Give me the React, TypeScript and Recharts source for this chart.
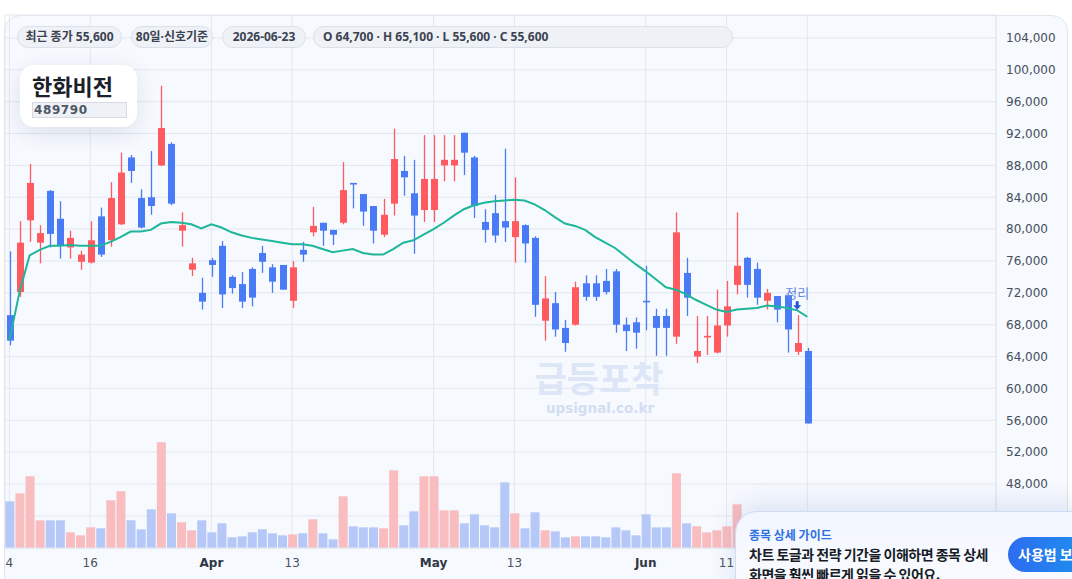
import React from "react";
import {
  ComposedChart,
  Bar,
  Line,
  XAxis,
  YAxis,
  CartesianGrid,
  Cell,
  ReferenceDot,
} from "recharts";

// 80 trading days, Mar 4 .. Jun 23 2026
const opens = [
  69200, 72100, 81100, 78300, 84800, 81300, 77700, 75900, 75800, 81600,
  78600, 80600, 89000, 83900, 84000, 88000, 90700, 79800, 74900, 72000,
  76100, 77900, 74000, 73100, 75000, 77000, 75200, 75500, 71000, 77400,
  79600, 80800, 79900, 80800, 85800, 84400, 82900, 79300, 83200, 87300,
  84500, 82400, 82400, 88000, 88000, 92100, 89000, 80900, 82000, 81000,
  79000, 80500, 78900, 68500, 70700, 67600, 68000, 73200, 73200, 73500,
  74700, 68000, 68300, 71000, 69100, 69100, 66500, 74500, 64000, 66500,
  64500, 67900, 73000, 76400, 75000, 71000, 71600, 71700, 64600, 64700,
];
const highs = [
  77200, 81000, 88200, 80500, 84900, 83500, 79800, 77300, 81000, 82700,
  85900, 89600, 89300, 85000, 89800, 98000, 90900, 82100, 76400, 73900,
  76400, 78500, 74200, 74600, 75200, 77900, 75600, 75500, 76000, 78400,
  82800, 80800, 79900, 88400, 85800, 84400, 82900, 83800, 92600, 89200,
  88700, 91800, 91800, 91800, 91800, 92100, 89200, 82500, 84300, 90100,
  86500, 80600, 79100, 74100, 72100, 68600, 73400, 74200, 74200, 75000,
  75000, 68900, 68900, 75400, 70000, 70000, 82100, 76400, 69100, 69100,
  72400, 73500, 82100, 76500, 75800, 72500, 71600, 71800, 69200, 65100,
];
const lows = [
  65400, 71500, 78400, 75700, 77700, 76300, 76300, 74900, 75700, 76500,
  77800, 80500, 85800, 80100, 81800, 87900, 83000, 77800, 74100, 69900,
  74000, 70100, 71900, 70100, 70300, 74500, 72000, 72400, 70100, 75900,
  79100, 77900, 78000, 80600, 82600, 80400, 78200, 79000, 81700, 84200,
  76900, 80900, 80900, 86000, 86000, 86800, 81400, 78300, 78300, 78400,
  75800, 75800, 69000, 66000, 66500, 64600, 67900, 71000, 71000, 71800,
  67000, 64700, 65000, 67300, 64100, 64100, 65600, 69100, 63200, 64200,
  64400, 66500, 71800, 71400, 70500, 69900, 68300, 64500, 64200, 55600,
];
const closes = [
  66000, 78300, 85800, 79500, 79400, 77900, 78900, 76800, 78600, 76800,
  83900, 87100, 87300, 80200, 82900, 92700, 83200, 80500, 75700, 70900,
  75500, 71800, 72600, 70900, 71400, 75900, 73400, 72400, 75200, 76800,
  80400, 79800, 79300, 84900, 85600, 82200, 79800, 81800, 88800, 86500,
  81700, 86300, 86300, 88700, 88700, 89600, 82900, 79900, 79200, 80200,
  81000, 78200, 70500, 71300, 67400, 65700, 72700, 71500, 71500, 72100,
  68000, 67200, 67000, 70800, 67600, 67600, 79600, 71400, 64700, 66600,
  67900, 70300, 75400, 73000, 71400, 72000, 69900, 67400, 65700, 55600,
];
const volumes = [
  140, 164, 215, 83, 83, 83, 47, 38, 62, 59,
  143, 170, 83, 56, 116, 317, 104, 77, 53, 83,
  47, 74, 32, 35, 47, 56, 44, 38, 41, 44,
  86, 44, 26, 155, 65, 62, 62, 59, 233, 68,
  110, 215, 215, 113, 113, 74, 101, 68, 62, 197,
  104, 59, 107, 53, 50, 32, 35, 35, 35, 32,
  62, 53, 38, 101, 62, 62, 224, 74, 65, 47,
  53, 65, 131, 60, 55, 45, 55, 85, 60, 100,
];
const ma20 = [
  66000, 72100, 76700, 77400, 77900, 77900, 78000, 77900, 77900, 77900,
  78400, 79000, 79700, 79700, 79900, 80700, 80900, 80800, 80600, 80100,
  80600, 80200, 79600, 79200, 78900, 78700, 78500, 78300, 78100, 78100,
  77900, 77500, 77100, 77300, 77500, 77000, 76800, 76800, 77500, 78300,
  78600, 79300, 80000, 80800, 81700, 82500, 83000, 83300, 83500, 83600,
  83700, 83600, 83100, 82400, 81500, 80700, 80400, 79900, 79000, 78300,
  77600, 76600, 75600, 74700, 73700, 72700, 72400, 71800, 71100, 70500,
  69900, 69600, 69900, 70000, 70100, 70400, 70300, 70100, 69800, 69000,
];

const tickIndex = [0, 8, 20, 28, 42, 50, 63, 71, 79];
const tickLabels = ["4", "16", "Apr", "13", "May", "13", "Jun", "11", ""];
const monthLabels = ["Apr", "May", "Jun"];
const priceTicks = [
  44000, 48000, 52000, 56000, 60000, 64000, 68000, 72000, 76000, 80000,
  84000, 88000, 92000, 96000, 100000, 104000,
];

const chips = [
  "최근 종가 55,600",
  "80일·신호기준",
  "2026-06-23",
  "O 64,700 · H 65,100 · L 55,600 · C 55,600",
];
const stockName = "한화비전";
const stockCode = "489790";
const markers = [{ index: 78, text: "정리" }];

// chip boxes (left edge, outer width) in page pixels
const chipBoxes = [
  [17, 105],
  [131, 82],
  [222, 84],
  [313, 420],
];

const UP = "#ff5a5f";
const DOWN = "#4a7bf7";
const CJK = '"Noto Sans CJK KR", "Noto Sans", sans-serif';
const LATIN_CJK = '"Noto Sans", "Noto Sans CJK KR", sans-serif';

const rows = closes.map((c, i) => ({
  i,
  open: opens[i],
  high: highs[i],
  low: lows[i],
  close: c,
  hl: [lows[i], highs[i]],
  vol: volumes[i],
  ma: ma20[i],
}));

function Candle(props: any) {
  const { x, y, width, height, payload } = props;
  if (!payload || payload.high == null) return null;
  const { open, close, high, low } = payload;
  const top = Math.min(y, y + height);
  const h = Math.abs(height);
  const unit = h / Math.max(high - low, 1);
  const py = (v: number) => top + (high - v) * unit;
  const color = close >= open ? UP : DOWN;
  const cx = Math.round(x + width / 2) + 0.5;
  const bTop = py(Math.max(open, close));
  const bBot = py(Math.min(open, close));
  return (
    <g>
      <line x1={cx} x2={cx} y1={top} y2={top + h} stroke={color} strokeWidth={1.3} />
      <rect
        x={cx - 3.5}
        y={bTop}
        width={7}
        height={Math.max(bBot - bTop, 1.6)}
        fill={color}
      />
    </g>
  );
}

function DateTick(props: any) {
  const { x, y, payload } = props;
  const k = tickIndex.indexOf(payload.value);
  const label = k >= 0 ? tickLabels[k] : "";
  if (!label) return null;
  const bold = monthLabels.includes(label);
  return (
    <text
      x={x}
      y={y}
      dy="0.71em"
      textAnchor="middle"
      fontFamily="DejaVu Sans"
      fontSize={12}
      fontWeight={bold ? 700 : 400}
      fill={bold ? "#2f3644" : "#4b5260"}
    >
      {label}
    </text>
  );
}

function SignalMark(props: any) {
  const { cx, cy, text } = props;
  if (cx == null || cy == null) return null;
  return (
    <g>
      <text
        x={cx}
        y={cy - 22}
        dy="0.35em"
        textAnchor="middle"
        fontFamily={CJK}
        fontSize={13}
        fill="#6286e4"
      >
        {text}
      </text>
      <path
        d={`M${cx - 1.5},${cy - 14} h3 v4 h2.5 l-4,4.5 l-4,-4.5 h2.5 z`}
        fill="#2a55d6"
      />
    </g>
  );
}

export default function App() {
  return (
    <div
      style={{
        position: "relative",
        width: 1072,
        height: 579,
        overflow: "hidden",
        background: "#ffffff",
        fontFamily: CJK,
      }}
    >
      <style>{"body{margin:0}"}</style>
      {/* chart card */}
      <div
        style={{
          position: "absolute",
          left: 4,
          top: 15,
          width: 1062,
          height: 620,
          border: "1px solid #e1e6ee",
          borderRadius: 16,
          background: "#f6f9fe",
        }}
      />

      <div style={{ position: "absolute", left: 0, top: 0 }}>
        <ComposedChart
          width={1067}
          height={579}
          data={rows}
          margin={{ top: 15, right: 0, left: 5, bottom: 0 }}
        >
          <CartesianGrid stroke="#e3e7ee" strokeWidth={1} />
          <XAxis
            dataKey="i"
            type="number"
            domain={[-0.4356, 97.683]}
            allowDataOverflow
            ticks={tickIndex}
            interval={0}
            height={31}
            tickLine={false}
            tickSize={6}
            tickMargin={4}
            axisLine={{ stroke: "#e3e7ee" }}
            tick={<DateTick />}
          />
          <XAxis
            xAxisId="vx"
            dataKey="i"
            type="number"
            domain={[-0.4356, 97.683]}
            allowDataOverflow
            hide
          />
          <YAxis
            orientation="right"
            type="number"
            domain={[39965, 106883]}
            allowDataOverflow
            ticks={priceTicks}
            interval={0}
            width={71}
            tickLine={false}
            tickSize={6}
            tickMargin={4}
            axisLine={{ stroke: "#e3e7ee" }}
            tick={{ fill: "#464e5b", fontSize: 12, fontFamily: "DejaVu Sans" }}
            tickFormatter={(v: number) => (v < 48000 ? "" : v.toLocaleString("en-US"))}
          />
          <YAxis yAxisId="vy" type="number" domain={[0, 1599]} allowDataOverflow hide />

          <Bar
            dataKey="vol"
            xAxisId="vx"
            yAxisId="vy"
            barSize={9}
            isAnimationActive={false}
          >
            {rows.map((r) => (
              <Cell key={r.i} fill={r.close >= r.open ? "#f9bcbf" : "#b5c8f8"} />
            ))}
          </Bar>
          <Bar
            dataKey="hl"
            barSize={7}
            shape={<Candle />}
            isAnimationActive={false}
          />
          <Line
            dataKey="ma"
            type="linear"
            stroke="#1db699"
            strokeWidth={2}
            dot={false}
            activeDot={false}
            isAnimationActive={false}
          />
          {markers.map((m) => (
            <ReferenceDot
              key={m.index}
              x={m.index}
              y={highs[m.index]}
              r={0}
              ifOverflow="visible"
              shape={(p: any) => <SignalMark {...p} text={m.text} />}
            />
          ))}
        </ComposedChart>
      </div>

      {/* watermark */}
      <div
        style={{
          position: "absolute",
          left: 519,
          top: 358,
          width: 160,
          textAlign: "center",
          fontSize: 35,
          fontWeight: 700,
          color: "#dce6f7",
          lineHeight: "38px",
          pointerEvents: "none",
        }}
      >
        급등포착
      </div>
      <div
        style={{
          position: "absolute",
          left: 520,
          top: 401,
          width: 160,
          textAlign: "center",
          fontSize: 13.5,
          fontWeight: 700,
          fontFamily: "DejaVu Sans",
          color: "#d3def2",
          lineHeight: "14px",
        }}
      >
        upsignal.co.kr
      </div>

      {/* header chips */}
      {chips.map((c, k) => (
        <div
          key={c}
          style={{
            position: "absolute",
            left: chipBoxes[k][0],
            top: 26,
            width: chipBoxes[k][1],
            height: 22,
            lineHeight: "20px",
            paddingLeft: k === 3 ? 9 : 0,
            boxSizing: "border-box",
            textAlign: k === 3 ? "left" : "center",
            borderRadius: 11,
            border: "1px solid #dce1e9",
            background: "#eef1f6",
            fontFamily: LATIN_CJK,
            fontSize: 12,
            fontWeight: 700,
            color: "#3b4250",
            whiteSpace: "nowrap",
            overflow: "hidden",
          }}
        >
          {c}
        </div>
      ))}

      {/* stock title */}
      <div
        style={{
          position: "absolute",
          left: 20,
          top: 65,
          width: 117,
          height: 62,
          borderRadius: 14,
          background: "#ffffff",
          boxShadow: "0 6px 22px rgba(40,60,100,0.12)",
        }}
      >
        <div
          style={{
            position: "absolute",
            left: 12,
            top: 5,
            fontSize: 22,
            fontWeight: 700,
            color: "#1b202b",
            lineHeight: "30px",
          }}
        >
          {stockName}
        </div>
        <div
          style={{
            position: "absolute",
            left: 12,
            top: 37,
            width: 92,
            height: 14,
            border: "1px solid #d6dbe3",
            background: "#eef1f5",
            fontFamily: "DejaVu Sans",
            fontSize: 12,
            fontWeight: 700,
            color: "#4d5665",
            lineHeight: "14px",
            letterSpacing: 0.6,
            paddingLeft: 1,
          }}
        >
          {stockCode}
        </div>
      </div>

      {/* guide popup */}
      <div
        style={{
          position: "absolute",
          left: 735,
          top: 511,
          width: 360,
          height: 90,
          borderTopLeftRadius: 22,
          border: "1px solid #cfdcf4",
          background: "linear-gradient(180deg, #f2f6ff 0%, #fbfcff 100%)",
          boxShadow: "0 -6px 26px rgba(50,90,170,0.14)",
        }}
      >
        <div
          style={{
            position: "absolute",
            left: 13,
            top: 15,
            fontSize: 12,
            fontWeight: 700,
            color: "#2d6fe4",
            lineHeight: "16px",
          }}
        >
          종목 상세 가이드
        </div>
        <div
          style={{
            position: "absolute",
            left: 13,
            top: 32,
            fontSize: 14,
            fontWeight: 700,
            color: "#161b25",
            lineHeight: "20px",
            letterSpacing: -0.5,
            whiteSpace: "nowrap",
          }}
        >
          차트 토글과 전략 기간을 이해하면 종목 상세
          <br />
          화면을 훨씬 빠르게 읽을 수 있어요.
        </div>
        <div
          style={{
            position: "absolute",
            left: 272,
            top: 25,
            width: 120,
            height: 35,
            borderRadius: 18,
            background: "linear-gradient(90deg, #2d6cf0 0%, #16a3ee 100%)",
            color: "#ffffff",
            fontSize: 14,
            fontWeight: 700,
            lineHeight: "35px",
            paddingLeft: 10,
            boxSizing: "border-box",
          }}
        >
          사용법 보기
        </div>
      </div>
    </div>
  );
}
